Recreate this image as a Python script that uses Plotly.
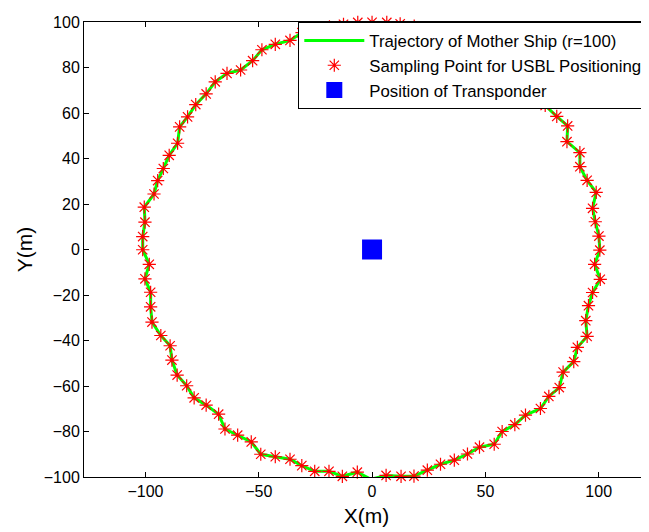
import plotly.graph_objects as go

# Sampling points of the mother ship trajectory, CCW from angle 0
x_pts = [100.5, 100.1, 98.5, 97.3, 98.9, 94.9, 91.7, 91.7, 86.0, 86.3, 81.5, 76.4,
         72.5, 68.8, 63.4, 58.9, 53.2, 48.5, 42.3, 37.0, 30.6, 24.9, 18.6, 12.4, 6.5,
         0.0, -6.3, -12.6, -18.8, -24.9, -30.9,
         -36.2, -42.7, -48.6, -52.7, -58.0, -64.0, -69.2, -73.2, -77.8, -81.4, -84.9,
         -85.8, -89.5, -92.1, -94.6, -96.2, -100.5, -100.2, -101.2,
         -101.2, -98.3, -100.2, -97.7, -97.7, -97.1, -93.2, -89.1, -88.3, -86.0, -81.8,
         -78.5, -73.2, -67.7, -64.9, -59.3, -53.3, -49.1, -42.7, -36.2, -31.0, -25.3,
         -19.0, -13.1, -6.5,
         -0.5, 6.2, 12.8, 18.5, 24.4, 30.2, 36.3, 42.1, 47.4, 53.9, 57.4, 63.0, 67.7,
         74.3, 78.0, 82.6, 84.3, 89.0, 90.6, 94.9, 94.3, 95.5, 97.3, 100.7, 98.2]
y_pts = [-0.3, 5.9, 12.2, 18.1, 25.1, 30.4, 36.4, 42.6, 47.4, 54.3, 58.5, 63.3,
         68.6, 72.5, 77.0, 81.3, 84.1, 87.9, 90.8, 93.2, 95.4, 97.1, 98.2, 99.2, 99.8,
         99.9, 99.8, 99.0, 97.9, 97.0, 95.3,
         91.9, 90.2, 87.8, 83.0, 78.9, 77.4, 73.7, 68.4, 63.7, 58.3, 53.9,
         46.7, 41.4, 35.6, 30.3, 24.4, 18.6, 12.0, 5.7,
         -0.1, -6.5, -12.9, -18.8, -25.2, -31.9, -37.8, -42.3, -48.6, -55.2, -59.9,
         -65.2, -68.4, -72.4, -78.9, -81.6, -84.6, -90.0, -91.1, -92.2, -95.0, -97.5,
         -97.5, -99.7, -97.9,
         -101.0, -99.3, -99.7, -99.6, -97.0, -94.4, -92.6, -89.9, -86.9, -85.6, -80.0,
         -77.0, -72.8, -69.9, -64.6, -60.7, -53.9, -49.3, -43.0, -38.2, -31.3, -24.7,
         -18.9, -13.1, -6.5]

transponder_x = [0]
transponder_y = [0]

x_ticks = [-100, -50, 0, 50, 100]
y_ticks = [-100, -80, -60, -40, -20, 0, 20, 40, 60, 80, 100]

font_family = "Liberation Sans, Arial, sans-serif"

fig = go.Figure()
fig.add_trace(go.Scatter(
    x=x_pts + x_pts[:1], y=y_pts + y_pts[:1], mode="lines",
    line=dict(color="#00FF00", width=3),
    name="Trajectory of Mother Ship (r=100)", hoverinfo="skip"))
fig.add_trace(go.Scatter(
    x=x_pts, y=y_pts, mode="markers",
    marker=dict(symbol="asterisk-open", size=11, color="#FF0000",
                line=dict(color="#FF0000", width=1.2)),
    cliponaxis=False,
    name="Sampling Point for USBL Positioning"))
fig.add_trace(go.Scatter(
    x=transponder_x, y=transponder_y, mode="markers",
    marker=dict(symbol="square", size=20, color="#0000FF"),
    name="Position of Transponder"))
# invisible trace so the mirrored top axis is drawn
fig.add_trace(go.Scatter(x=transponder_x, y=transponder_y, xaxis="x2", mode="markers",
                         marker=dict(opacity=0), showlegend=False, hoverinfo="skip"))

axis_common = dict(showgrid=False, zeroline=False, showline=True, linecolor="black",
                   linewidth=1, ticks="inside", ticklen=5, tickcolor="black",
                   automargin=False,
                   tickfont=dict(family=font_family, size=16, color="black"))

# the page body has an 8px margin, so the figure is sized/placed to compensate
fig.update_layout(
    width=641, height=524,
    margin=dict(l=76, r=0, t=14, b=55, autoexpand=False),
    paper_bgcolor="white", plot_bgcolor="white",
    font=dict(family=font_family, color="black"),
    xaxis=dict(range=[-127.1, 122.2], tickvals=x_ticks,
               title=dict(text="X(m)", font=dict(size=21), standoff=9),
               **axis_common),
    xaxis2=dict(overlaying="x", side="top", matches="x", showticklabels=False,
                tickvals=x_ticks, **{k: v for k, v in axis_common.items() if k != "tickfont"}),
    yaxis=dict(range=[-100, 100], tickvals=y_ticks,
               title=dict(text="Y(m)", font=dict(size=21), standoff=5),
               **axis_common),
    legend=dict(x=0.3793, y=1.0, xanchor="left", yanchor="top",
                bgcolor="white", bordercolor="black", borderwidth=1,
                font=dict(family=font_family, size=16.8, color="black"),
                itemwidth=60, tracegroupgap=0),
    showlegend=True,
)

fig.write_html("out.html")
